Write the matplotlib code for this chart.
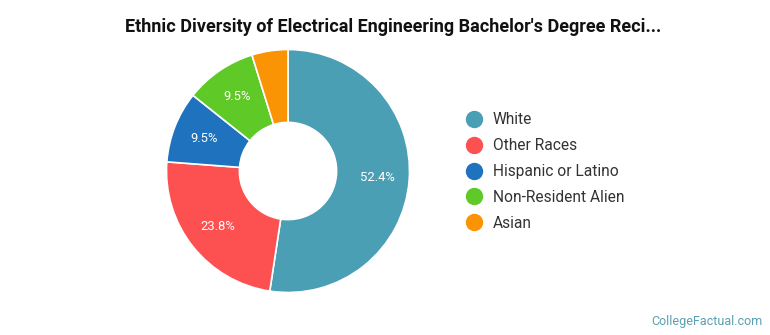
import matplotlib
matplotlib.use("Agg")
import matplotlib.pyplot as plt
from matplotlib.lines import Line2D

categories = ["White", "Other Races", "Hispanic or Latino", "Non-Resident Alien", "Asian"]
values = [52.4, 23.8, 9.5, 9.5, 4.8]
labels = ["52.4%", "23.8%", "9.5%", "9.5%", ""]
colors = ["#4a9fb5", "#fd5151", "#1f72be", "#5fc928", "#fb9404"]

plt.rcParams['font.family'] = ['Roboto', 'DejaVu Sans']

W, H = 770, 335
fig = plt.figure(figsize=(W / 100, H / 100), dpi=100)

cx, cy, r = 288, 171, 121.5
ax = fig.add_axes([(cx - r) / W, (H - cy - r) / H, 2 * r / W, 2 * r / H])
wedges, texts = ax.pie(values, colors=colors, startangle=90, counterclock=False,
                       radius=1.0, labels=labels, labeldistance=0.74,
                       wedgeprops=dict(width=0.6, edgecolor="white", linewidth=1.2),
                       textprops=dict(color="white", fontsize=9.4, ha="center", va="center"))
ax.set_xlim(-1, 1)
ax.set_ylim(-1, 1)
ax.set_aspect("equal")
ax.axis("off")

fig.text(393 / W, 1 - 27 / H, "Ethnic Diversity of Electrical Engineering Bachelor's Degree Reci...",
         ha="center", va="center", fontsize=13, fontweight="bold", color="#111111")

handles = [Line2D([0], [0], marker="o", linestyle="", markersize=11.5,
                  markerfacecolor=c, markeredgecolor=c) for c in colors]
leg = fig.legend(handles, categories, loc="upper left",
                 bbox_to_anchor=(458 / W, 1 - 106 / H), frameon=False,
                 fontsize=11.2, labelspacing=0.7, handletextpad=0.62,
                 handlelength=1.2, borderaxespad=0)
for t in leg.get_texts():
    t.set_color("#333333")

fig.text(762 / W, 1 - 321 / H, "CollegeFactual.com", ha="right", va="center",
         fontsize=9, color="#5a9fb2")

fig.savefig("out.png", dpi=100, facecolor="white")
